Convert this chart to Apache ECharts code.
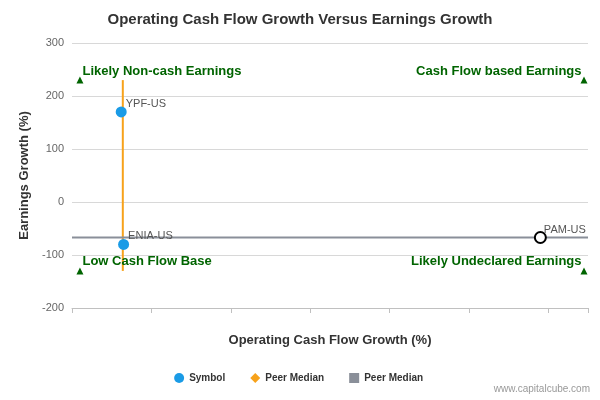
<!DOCTYPE html>
<html><head><meta charset="utf-8">
<script src="https://cdn.jsdelivr.net/npm/echarts@6/dist/echarts.min.js"></script>
<style>html,body{margin:0;padding:0}#c{width:600px;height:400px}</style></head>
<body><div id="c"></div>
<script>
const symbols = ['YPF-US','ENIA-US'];
const symbolX = [2, 5];
const symbolY = [170, -80];
const highlight = {name:'PAM-US', x:530, y:-67};
const medianX = 4;
const medianY = -67;
const quadLabels = ['Likely Non-cash Earnings','Cash Flow based Earnings','Low Cash Flow Base','Likely Undeclared Earnings'];
const quadX = [-50, 585, -50, 585];
const quadY = [230, 230, -130, -130];
const xMin=-60, xMax=590, yMin=-200, yMax=300;

const chart = echarts.init(document.getElementById('c'));
const font = 'Liberation Sans, Arial, sans-serif';
chart.setOption({
  animation:false,
  title:{text:'Operating Cash Flow Growth Versus Earnings Growth',left:'center',top:7,
    textStyle:{fontSize:15,fontWeight:'bold',color:'#333',fontFamily:font}},
  grid:{left:72,right:12,top:43,bottom:92},
  xAxis:{type:'value',min:xMin,max:xMax,interval:100,
    name:'Operating Cash Flow Growth (%)',nameLocation:'middle',nameGap:26,
    nameTextStyle:{fontWeight:'bold',fontSize:13,color:'#333',fontFamily:font},
    axisLine:{onZero:false,lineStyle:{color:'#c0c0c0'}},axisTick:{show:true,lineStyle:{color:'#c0c0c0'}},
    axisLabel:{color:'#666',fontSize:11,fontFamily:font,formatter:v=>v%100===0?v:''},
    splitLine:{show:false}},
  yAxis:{type:'value',min:yMin,max:yMax,interval:100,
    name:'Earnings Growth (%)',nameLocation:'middle',nameGap:40,nameRotate:90,
    nameTextStyle:{fontWeight:'bold',fontSize:13,color:'#333',fontFamily:font},
    axisLine:{show:false},axisTick:{show:false},
    axisLabel:{color:'#666',fontSize:11,fontFamily:font},
    splitLine:{lineStyle:{color:'#d8d8d8'}}},
  legend:{bottom:12,left:'center',itemGap:25,itemWidth:10,itemHeight:10,
    textStyle:{fontSize:10,fontWeight:'bold',color:'#333',fontFamily:font},
    data:[{name:'Symbol',icon:'circle'},{name:'Peer Median',icon:'diamond',itemStyle:{color:'#f7a21b'}},{name:'Peer Median ',icon:'rect',itemStyle:{color:'#8a8f99'}}]},
  graphic:[{type:'text',right:10,bottom:6,style:{text:'www.capitalcube.com',fontSize:10,fill:'#999',fontFamily:font}}],
  series:[
    {name:'Symbol',type:'scatter',symbolSize:11,itemStyle:{color:'#1a9be6',opacity:1},
      data:symbols.map((s,i)=>({name:s,value:[symbolX[i],symbolY[i]]})),
      label:{show:true,position:'right',offset:[-6,-8],formatter:p=>p.name,fontSize:11,color:'#555',fontFamily:font},z:5},
    {name:'Symbol ',type:'scatter',symbolSize:11,itemStyle:{color:'#fff',borderColor:'#000',borderWidth:2,opacity:1},
      data:[{name:highlight.name,value:[highlight.x,highlight.y]}],
      label:{show:true,position:'right',offset:[-8,-8],formatter:p=>p.name,fontSize:11,color:'#555',fontFamily:font},z:5},
    {name:'Peer Median',type:'line',symbol:'none',lineStyle:{color:'#f7a21b',width:2},itemStyle:{color:'#f7a21b'},
      data:[[medianX,-130],[medianX,230]]},
    {name:'Peer Median ',type:'line',symbol:'none',lineStyle:{color:'#8a8f99',width:2},itemStyle:{color:'#8a8f99'},
      data:[[xMin,medianY],[xMax,medianY]]},
    {name:'Quadrants',type:'scatter',symbol:'triangle',symbolSize:7,itemStyle:{color:'#006400',opacity:1},
      data:quadLabels.map((t,i)=>({name:t,value:[quadX[i],quadY[i]],
        label:{show:true,position:i%2===0?'right':'left',offset:i%2===0?[-6,-9]:[6,-9]}})),
      label:{formatter:p=>p.name,fontSize:13,fontWeight:'bold',color:'#006400',fontFamily:font},z:4}
  ]
});
</script></body></html>
